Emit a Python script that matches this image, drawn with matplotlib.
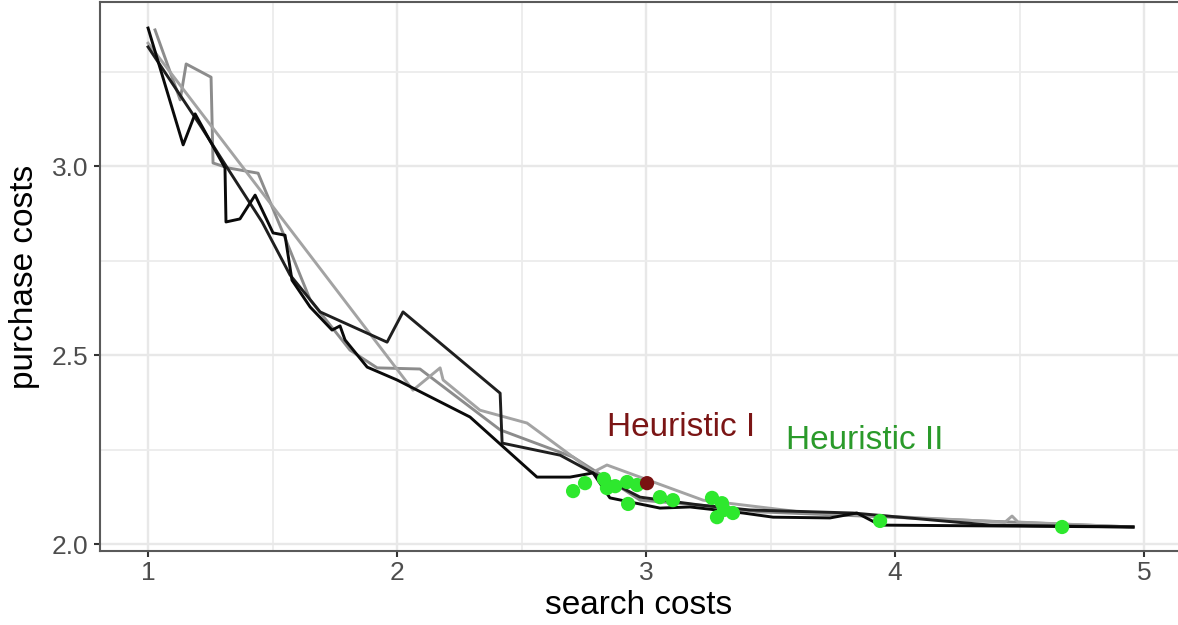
import matplotlib
matplotlib.use("Agg")
import matplotlib.pyplot as plt
from matplotlib.ticker import MultipleLocator

plt.rcParams['font.family'] = ['Liberation Sans', 'DejaVu Sans']

# ---- data ----
l1_x = [1.000, 1.141, 1.189, 1.309, 1.313, 1.369, 1.430, 1.502, 1.550, 1.578, 1.651, 1.739, 1.771, 1.791,
        1.880, 2.000, 2.293, 2.562, 2.695, 2.787, 2.855, 3.056, 3.177, 3.390, 3.510, 3.739, 3.847, 3.940, 4.956]
l1_y = [3.365, 3.056, 3.138, 2.995, 2.852, 2.860, 2.923, 2.823, 2.817, 2.698, 2.627, 2.566, 2.577, 2.540,
        2.468, 2.434, 2.336, 2.177, 2.177, 2.188, 2.122, 2.095, 2.098, 2.082, 2.071, 2.069, 2.082, 2.050, 2.045]

l2_x = [1.000, 1.209, 1.329, 1.458, 1.570, 1.691, 1.960, 2.024, 2.414, 2.422, 2.655, 2.787, 2.976, 3.217,
        3.418, 3.831, 4.382, 4.956]
l2_y = [3.315, 3.108, 2.984, 2.852, 2.712, 2.614, 2.534, 2.614, 2.399, 2.267, 2.235, 2.188, 2.124, 2.103,
        2.090, 2.082, 2.050, 2.045]

l3_x = [1.028, 1.129, 1.153, 1.253, 1.261, 1.321, 1.442, 1.542, 1.651, 1.811, 1.920, 2.092, 2.414, 2.707,
        2.803, 2.976, 3.217, 3.458, 4.956]
l3_y = [3.360, 3.175, 3.270, 3.235, 3.008, 2.995, 2.981, 2.823, 2.646, 2.513, 2.466, 2.463, 2.302, 2.230,
        2.190, 2.116, 2.103, 2.085, 2.045]

l4_x = [1.000, 2.064, 2.173, 2.185, 2.333, 2.522, 2.707, 2.787, 2.843, 3.229, 3.618, 4.442, 4.470, 4.494, 4.956]
l4_y = [3.325, 2.407, 2.466, 2.434, 2.354, 2.320, 2.230, 2.190, 2.209, 2.116, 2.085, 2.058, 2.074, 2.058, 2.045]

h2_x = [2.707, 2.755, 2.831, 2.843, 2.876, 2.924, 2.964, 2.928, 3.056, 3.108, 3.265, 3.305, 3.285, 3.349,
        3.313, 3.940, 4.671]
h2_y = [2.140, 2.161, 2.172, 2.148, 2.153, 2.164, 2.156, 2.106, 2.124, 2.116, 2.122, 2.108, 2.071, 2.082,
        2.090, 2.061, 2.045]

h1_x = [3.004]
h1_y = [2.161]

x_ticks = [1, 2, 3, 4, 5]
y_ticks = [2.0, 2.5, 3.0]
y_tick_labels = ["2.0", "2.5", "3.0"]

# ---- figure ----
fig = plt.figure(figsize=(11.78, 6.25), dpi=100)
ax = fig.add_axes([100 / 1178, 1 - 551 / 625, 1078 / 1178, 549 / 625])

ax.set_xlim(0.807, 5.1365)
ax.set_ylim(1.9815, 3.4339)

ax.set_xticks(x_ticks)
ax.set_yticks(y_ticks)
ax.set_yticklabels(y_tick_labels)
ax.xaxis.set_minor_locator(MultipleLocator(0.5))
ax.yaxis.set_minor_locator(MultipleLocator(0.25))
ax.grid(which='major', color='#e8e8e8', linewidth=1.7, zorder=0)
ax.grid(which='minor', color='#ececec', linewidth=1.3, zorder=0)
ax.set_axisbelow(True)

for s in ['left', 'bottom', 'top']:
    ax.spines[s].set_color('#5a5a5a')
    ax.spines[s].set_linewidth(1.5)
ax.spines['right'].set_visible(False)

ax.tick_params(which='major', length=4.5, width=1.5, color='#333333', labelsize=19,
               labelcolor='#4d4d4d', pad=3)
ax.tick_params(axis='y', pad=4)
ax.tick_params(which='minor', length=0)

lw = 2.1
ax.plot(l3_x, l3_y, color='#8c8c8c', lw=lw, zorder=2)
ax.plot(l4_x, l4_y, color='#a3a3a3', lw=lw, zorder=2)
ax.plot(l2_x, l2_y, color='#1f1f1f', lw=lw, zorder=3)
ax.plot(l1_x, l1_y, color='#0a0a0a', lw=lw, zorder=3)

ax.scatter(h2_x, h2_y, s=105, color='#2ee82e', edgecolors='none', zorder=4)
ax.scatter(h1_x, h1_y, s=105, color='#7a1212', edgecolors='none', zorder=5)

ax.text(3.141, 2.307, "Heuristic I", color='#7b1515', fontsize=24, ha='center', va='center', zorder=6)
ax.text(3.880, 2.275, "Heuristic II", color='#2a9a2a', fontsize=24, ha='center', va='center', zorder=6)

ax.set_xlabel("search costs", fontsize=24, color='black', labelpad=3)
ax.set_ylabel("purchase costs", fontsize=24, color='black', labelpad=8)

fig.savefig("out.png", dpi=100)
